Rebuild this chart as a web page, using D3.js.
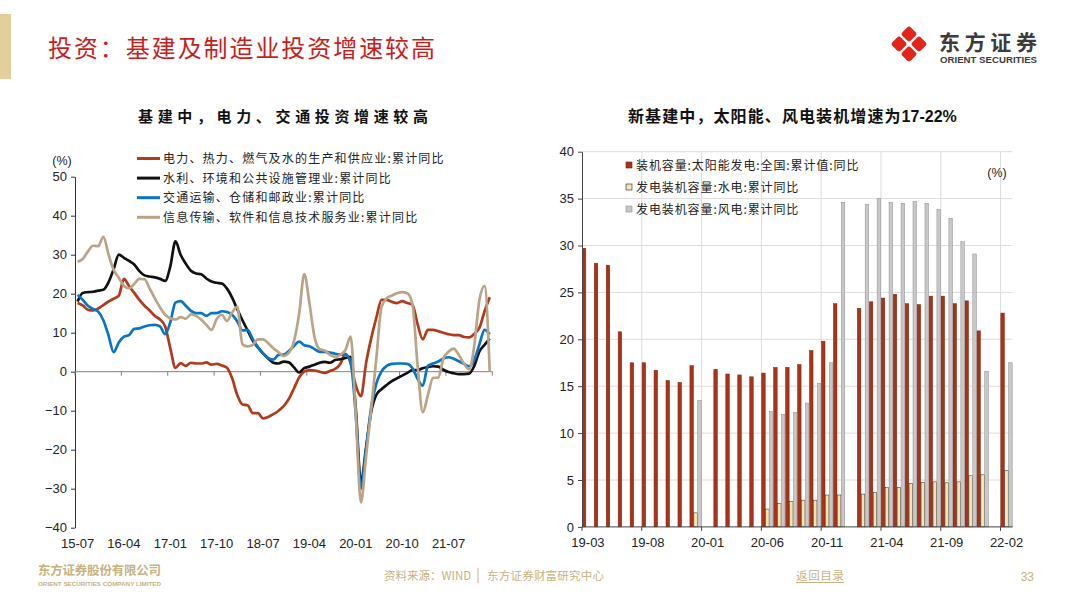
<!DOCTYPE html>
<html>
<head>
<meta charset="utf-8">
<script src="https://cdn.jsdelivr.net/npm/d3@7"></script>
<style>
  body { margin: 0; background: #fff; }
  svg { display: block; }
</style>
</head>
<body>
<svg id="chart" width="1080" height="608"></svg>
<script>
// ---------- data ----------
// left chart: monthly, 15-07 .. 22-03
var leftMonths = d3.timeMonth.range(new Date(2015, 6, 1), new Date(2022, 3, 1)).map(d3.timeFormat("%y-%m"));
var leftTickLabels = ["15-07", "16-04", "17-01", "17-10", "18-07", "19-04", "20-01", "20-10", "21-07"];
var leftNames = ["电力、热力、燃气及水的生产和供应业:累计同比", "水利、环境和公共设施管理业:累计同比",
                 "交通运输、仓储和邮政业:累计同比", "信息传输、软件和信息技术服务业:累计同比"];
var leftColors = ["#b23a1c", "#111111", "#0a74c4", "#b9a487"];

var power = [17.6, 17.0, 15.9, 15.7, 16.2, 17.1, 18.0, 18.7, 19.5, 23.8,
             21.9, 20.2, 18.4, 16.9, 15.7, 14.3, 13.4, 11.6, 6.0, 1.0,
             2.2, 1.5, 2.3, 2.1, 2.1, 2.4, 1.8, 2.0, 1.6, 1.0,
             -1.7, -6.0, -8.4, -8.6, -10.6, -10.6, -12.0, -11.6, -10.9, -10.0,
             -8.8, -7.0, -4.3, -1.5, 0.0, 0.4, 0.3, 0.0, -0.3, 0.2,
             0.7, 2.0, 4.6, 2.2, -3.5, -6.3, 2.2, 8.6, 13.9, 18.4,
             18.4, 17.9, 17.6, 18.1, 17.6, 17.2, 12.2, 8.3, 10.7, 10.7,
             10.4, 10.0, 9.6, 9.4, 9.4, 8.9, 8.8, 9.7, 11.3, 15.5, 19.1];
var water = [18.0, 20.2, 20.4, 20.5, 20.8, 21.0, 22.9, 26.3, 30.0, 29.2,
             28.4, 27.5, 25.8, 24.7, 24.4, 24.2, 23.8, 23.3, 27.0, 33.4,
             30.0, 27.7, 25.9, 25.2, 25.0, 23.9, 23.1, 22.8, 22.6, 21.3,
             19.0, 16.0, 13.2, 10.6, 8.0, 6.2, 4.7, 3.4, 2.3, 2.1,
             2.6, 2.4, 1.1, -0.2, 0.9, 1.3, 1.8, 2.3, 2.5, 2.3,
             3.0, 3.2, 3.5, 3.8, -9.4, -28.5, -19.4, -10.2, -5.9, -4.5,
             -3.4, -2.4, -1.7, -1.0, -0.3, 0.4, 0.4, 0.9, 1.2, 1.4,
             1.3, 0.5, -0.1, -0.4, -0.6, -0.6, -0.5, 1.5, 5.2, 6.9, 8.5];
var transport = [19.7, 18.4, 16.9, 16.1, 15.4, 13.2, 9.3, 5.0, 7.5, 9.0,
                 9.4, 11.0, 11.1, 11.6, 11.9, 12.0, 11.6, 9.6, 12.7, 17.7,
                 18.1, 16.9, 15.6, 15.0, 15.0, 14.3, 15.0, 15.0, 15.5, 15.3,
                 14.6, 12.9, 10.6, 10.7, 8.4, 6.3, 4.7, 3.5, 3.1, 4.3,
                 4.4, 5.3, 6.6, 7.7, 6.8, 6.5, 5.8, 5.1, 5.1, 4.9,
                 4.6, 4.4, 4.3, 2.5, -11.0, -30.0, -20.0, -9.0, -3.0, 0.1,
                 1.5, 2.0, 2.1, 2.1, 2.0, 0.9, -1.8, -3.6, 1.5, 2.1,
                 2.6, 3.4, 3.7, 3.3, 2.7, 2.0, 1.4, 3.0, 7.0, 10.7, 9.6];
var infoTech = [28.2, 28.9, 30.8, 32.3, 32.2, 34.6, 30.1, 26.1, 24.1, 22.0,
                21.4, 22.5, 23.8, 23.7, 21.3, 18.8, 16.5, 14.6, 13.7, 13.4,
                14.0, 13.6, 14.7, 14.3, 13.3, 12.0, 10.7, 13.5, 14.6, 13.0,
                15.2, 16.6, 7.0, 6.5, 6.9, 8.3, 8.3, 7.3, 6.0, 5.0,
                4.0, 4.8, 7.8, 14.8, 25.0, 17.6, 8.8, 5.8, 5.4, 4.3,
                3.8, 4.3, 5.6, 9.0, -11.0, -33.5, -21.7, -9.5, 3.6, 16.6,
                18.8, 19.5, 20.1, 20.4, 20.1, 17.3, 1.6, -10.4, -6.0, -1.6,
                -1.5, 3.4, 5.1, 5.9, 4.3, 2.1, 0.6, 6.7, 18.4, 22.0, 0.0];
var leftSeries = [power, water, transport, infoTech];

// right chart: monthly, 19-03 .. 22-02
var rightMonths = d3.timeMonth.range(new Date(2019, 2, 1), new Date(2022, 2, 1)).map(d3.timeFormat("%y-%m"));
var rightTickLabels = ["19-03", "19-08", "20-01", "20-06", "20-11", "21-04", "21-09", "22-02"];
var rightNames = ["装机容量:太阳能发电:全国:累计值:同比", "发电装机容量:水电:累计同比", "发电装机容量:风电:累计同比"];
var solar = [29.7, 28.1, 27.9, 20.8, 17.5, 17.5, 16.7, 15.6, 15.4, 17.2,
             null, 16.8, 16.3, 16.2, 16.0, 16.4, 17.0, 17.0, 17.3, 18.8,
             19.8, 23.8, null, 23.3, 24.0, 24.4, 24.8, 23.8, 23.7, 24.6,
             24.6, 23.8, 24.1, 20.9, null, 22.8];
var hydro = [null, null, null, null, null, null, null, null, null, 1.5,
             null, null, null, null, null, 1.9, 2.5, 2.7, 2.85, 2.85,
             3.4, 3.4, null, 3.5, 3.65, 4.2, 4.2, 4.65, 4.75, 4.8,
             4.7, 4.8, 5.45, 5.55, null, 6.0];
var wind = [null, null, null, null, null, null, null, null, null, 13.5,
            null, null, null, null, null, 12.3, 12.0, 12.2, 13.2, 15.3,
            17.5, 34.6, null, 34.4, 35.0, 34.6, 34.5, 34.7, 34.5, 33.85,
            32.9, 30.4, 29.1, 16.6, null, 17.5];
var rightSeries = [solar, hydro, wind];
var barFill = ["#a8321a", "#f6e5b3", "#c8c8c8"];
var barStroke = ["#7a2411", "#222222", "#8c8c8c"];

// ---------- page ----------
var cjk = "'Noto Sans CJK SC', sans-serif";
var latin = "'Liberation Sans', Arial, sans-serif";
var gold = "#c6b27f";
var svg = d3.select("#chart");

svg.append("rect").attr("x", 0).attr("y", 14).attr("width", 11).attr("height", 65).attr("fill", "#e2cf9b");
svg.append("text").attr("x", 48).attr("y", 57)
   .attr("font-family", cjk).attr("font-size", 24).attr("fill", "#c81e1e")
   .attr("textLength", 387).attr("lengthAdjust", "spacing")
   .text("投资：基建及制造业投资增速较高");

// logo
var logo = svg.append("g").attr("transform", "translate(909,44)");
[[0, -10], [10, 0], [0, 10], [-10, 0]].forEach(function(p) {
  logo.append("rect").attr("x", p[0] - 6).attr("y", p[1] - 6)
      .attr("width", 12).attr("height", 12).attr("rx", 3)
      .attr("transform", "rotate(45," + p[0] + "," + p[1] + ")")
      .attr("fill", "#e1251b");
});
svg.append("text").attr("x", 939).attr("y", 50)
   .attr("font-family", cjk).attr("font-size", 21).attr("font-weight", "bold").attr("fill", "#3b3b3b")
   .attr("textLength", 98).attr("lengthAdjust", "spacing").text("东方证券");
svg.append("text").attr("x", 940).attr("y", 62.5)
   .attr("font-family", latin).attr("font-size", 9).attr("font-weight", "bold").attr("fill", "#3b3b3b")
   .attr("textLength", 97).attr("lengthAdjust", "spacingAndGlyphs").text("ORIENT SECURITIES");

// subtitles
svg.append("text").attr("x", 138).attr("y", 122)
   .attr("font-family", cjk).attr("font-size", 15).attr("font-weight", "bold").attr("fill", "#111")
   .attr("textLength", 290).attr("lengthAdjust", "spacing")
   .text("基建中，电力、交通投资增速较高");
var st = svg.append("text").attr("x", 628).attr("y", 122)
   .attr("font-family", cjk).attr("font-size", 16).attr("font-weight", "bold").attr("fill", "#111");
st.append("tspan").attr("letter-spacing", 1.1).text("新基建中，太阳能、风电装机增速为");
st.append("tspan").attr("font-family", latin).attr("font-size", 16).text("17-22%");

// ---------- left chart ----------
var lx = d3.scaleBand().domain(leftMonths).range([75, 492.3]);
var ly = d3.scaleLinear().domain([-40, 50]).range([527.7, 176.7]);
var lbw = lx.bandwidth();

var lyAxis = svg.append("g").attr("transform", "translate(75,0)")
   .call(d3.axisLeft(ly).tickValues(d3.range(-40, 51, 10)).tickSize(4).tickSizeOuter(0).tickPadding(4));
lyAxis.select(".domain").attr("stroke", "#333");
lyAxis.selectAll(".tick line").attr("stroke", "#333");
lyAxis.selectAll("text").attr("font-family", latin).attr("font-size", 13).attr("fill", "#222");

svg.append("text").attr("x", 62).attr("y", 165).attr("text-anchor", "middle")
   .attr("font-family", latin).attr("font-size", 12.5).attr("fill", "#222").text("(%)");

// zero line with ticks at category starts
svg.append("line").attr("x1", 75).attr("x2", lx.range()[1])
   .attr("y1", ly(0)).attr("y2", ly(0)).attr("stroke", "#7f7f7f").attr("stroke-width", 1);
var lTickX = leftTickLabels.map(function(d) { return lx(d); }).concat([lx.range()[1]]);
svg.selectAll("line.ltick").data(lTickX).enter().append("line").attr("class", "ltick")
   .attr("x1", function(d) { return d; }).attr("x2", function(d) { return d; })
   .attr("y1", ly(0)).attr("y2", ly(0) + 4).attr("stroke", "#7f7f7f");
svg.selectAll("text.lxl").data(leftTickLabels).enter().append("text").attr("class", "lxl")
   .attr("x", function(d) { return lx(d) + lbw / 2; }).attr("y", 547.5)
   .attr("text-anchor", "middle").attr("font-family", latin).attr("font-size", 13).attr("fill", "#222")
   .text(function(d) { return d; });

var line = d3.line()
   .x(function(d, i) { return lx(leftMonths[i]) + lbw / 2; })
   .y(function(d) { return ly(d); })
   .curve(d3.curveMonotoneX);
svg.selectAll("path.series").data(leftSeries).enter().append("path").attr("class", "series")
   .attr("d", line).attr("fill", "none")
   .attr("stroke", function(d, i) { return leftColors[i]; })
   .attr("stroke-width", 2.7).attr("stroke-linejoin", "round");

// legend
var lleg = svg.selectAll("g.lleg").data(leftNames).enter().append("g").attr("class", "lleg")
   .attr("transform", function(d, i) { return "translate(137," + (158.5 + i * 19.6) + ")"; });
lleg.append("line").attr("x1", 0).attr("x2", 23).attr("stroke-width", 3)
   .attr("stroke", function(d, i) { return leftColors[i]; });
lleg.append("text").attr("x", 26).attr("y", 4.5)
   .attr("font-family", cjk).attr("font-size", 12).attr("fill", "#222")
   .attr("letter-spacing", 1.2).text(function(d) { return d; });

// ---------- right chart ----------
var rx = d3.scaleBand().domain(rightMonths).range([582, 1012.5]);
var rs = d3.scaleBand().domain([0, 1, 2]).range([0.3, rx.bandwidth() - 0.3]).paddingInner(0.1);
var ry = d3.scaleLinear().domain([0, 40]).range([526.9, 151.7]);

svg.selectAll("line.rgrid").data(d3.range(5, 41, 5)).enter().append("line").attr("class", "rgrid")
   .attr("x1", 582).attr("x2", rx.range()[1])
   .attr("y1", function(d) { return ry(d); }).attr("y2", function(d) { return ry(d); })
   .attr("stroke", "#dcdcdc");
svg.selectAll("line.rvgrid").data(rightTickLabels.slice(1)).enter().append("line").attr("class", "rvgrid")
   .attr("x1", function(d) { return rx(d); }).attr("x2", function(d) { return rx(d); })
   .attr("y1", ry(40)).attr("y2", ry(0)).attr("stroke", "#dcdcdc");

rightSeries.forEach(function(s, k) {
  var pts = s.map(function(v, i) { return { m: rightMonths[i], v: v }; })
             .filter(function(d) { return d.v !== null; });
  svg.append("g").selectAll("rect").data(pts).enter().append("rect")
     .attr("x", function(d) { return rx(d.m) + rs(k); })
     .attr("y", function(d) { return ry(d.v); })
     .attr("width", rs.bandwidth())
     .attr("height", function(d) { return ry(0) - ry(d.v); })
     .attr("fill", barFill[k]).attr("stroke", barStroke[k]).attr("stroke-width", 0.5);
});

var ryAxis = svg.append("g").attr("transform", "translate(582,0)")
   .call(d3.axisLeft(ry).tickValues(d3.range(0, 41, 5)).tickSize(4).tickSizeOuter(0).tickPadding(4));
ryAxis.select(".domain").attr("stroke", "#444");
ryAxis.selectAll(".tick line").attr("stroke", "#444");
ryAxis.selectAll("text").attr("font-family", latin).attr("font-size", 13).attr("fill", "#222");

svg.append("line").attr("x1", 582).attr("x2", rx.range()[1])
   .attr("y1", ry(0)).attr("y2", ry(0)).attr("stroke", "#444");
svg.selectAll("line.rtick").data(rightTickLabels).enter().append("line").attr("class", "rtick")
   .attr("x1", function(d) { return rx(d); }).attr("x2", function(d) { return rx(d); })
   .attr("y1", ry(0)).attr("y2", ry(0) + 4).attr("stroke", "#444");
svg.selectAll("text.rxl").data(rightTickLabels).enter().append("text").attr("class", "rxl")
   .attr("x", function(d) { return rx(d) + rx.bandwidth() / 2; }).attr("y", 546.5)
   .attr("text-anchor", "middle").attr("font-family", latin).attr("font-size", 13).attr("fill", "#222")
   .text(function(d) { return d; });

svg.append("text").attr("x", 997).attr("y", 177).attr("text-anchor", "middle")
   .attr("font-family", latin).attr("font-size", 12.5).attr("fill", "#222").text("(%)");

var rleg = svg.selectAll("g.rleg").data(rightNames).enter().append("g").attr("class", "rleg")
   .attr("transform", function(d, i) { return "translate(626," + (165 + i * 22) + ")"; });
rleg.append("rect").attr("x", 0).attr("y", -3).attr("width", 6).attr("height", 6)
   .attr("fill", function(d, i) { return barFill[i]; })
   .attr("stroke", function(d, i) { return barStroke[i]; }).attr("stroke-width", 0.6);
rleg.append("text").attr("x", 10).attr("y", 4.5)
   .attr("font-family", cjk).attr("font-size", 12).attr("fill", "#222")
   .attr("letter-spacing", 0.9).text(function(d) { return d; });

// ---------- footer ----------
svg.append("text").attr("x", 38).attr("y", 575)
   .attr("font-family", cjk).attr("font-size", 12.5).attr("font-weight", "bold").attr("fill", gold)
   .attr("textLength", 123).attr("lengthAdjust", "spacing").text("东方证券股份有限公司");
svg.append("text").attr("x", 38).attr("y", 586)
   .attr("font-family", latin).attr("font-size", 5).attr("font-weight", "bold").attr("fill", gold)
   .attr("textLength", 123).attr("lengthAdjust", "spacingAndGlyphs").text("ORIENT SECURITIES COMPANY LIMITED");
svg.append("text").attr("x", 384).attr("y", 580)
   .attr("font-family", cjk).attr("font-size", 11.5).attr("fill", gold).text("资料来源：WIND");
svg.append("line").attr("x1", 478).attr("x2", 478).attr("y1", 568).attr("y2", 583).attr("stroke", gold);
svg.append("text").attr("x", 487).attr("y", 580)
   .attr("font-family", cjk).attr("font-size", 11.5).attr("fill", gold)
   .attr("textLength", 117).attr("lengthAdjust", "spacing").text("东方证券财富研究中心");
svg.append("text").attr("x", 796).attr("y", 580)
   .attr("font-family", cjk).attr("font-size", 11.5).attr("fill", gold)
   .attr("textLength", 48).attr("lengthAdjust", "spacing").text("返回目录");
svg.append("line").attr("x1", 796).attr("x2", 844).attr("y1", 582.5).attr("y2", 582.5).attr("stroke", gold);
svg.append("text").attr("x", 1034).attr("y", 581).attr("text-anchor", "end")
   .attr("font-family", latin).attr("font-size", 12).attr("fill", gold).text("33");
</script>
</body>
</html>
